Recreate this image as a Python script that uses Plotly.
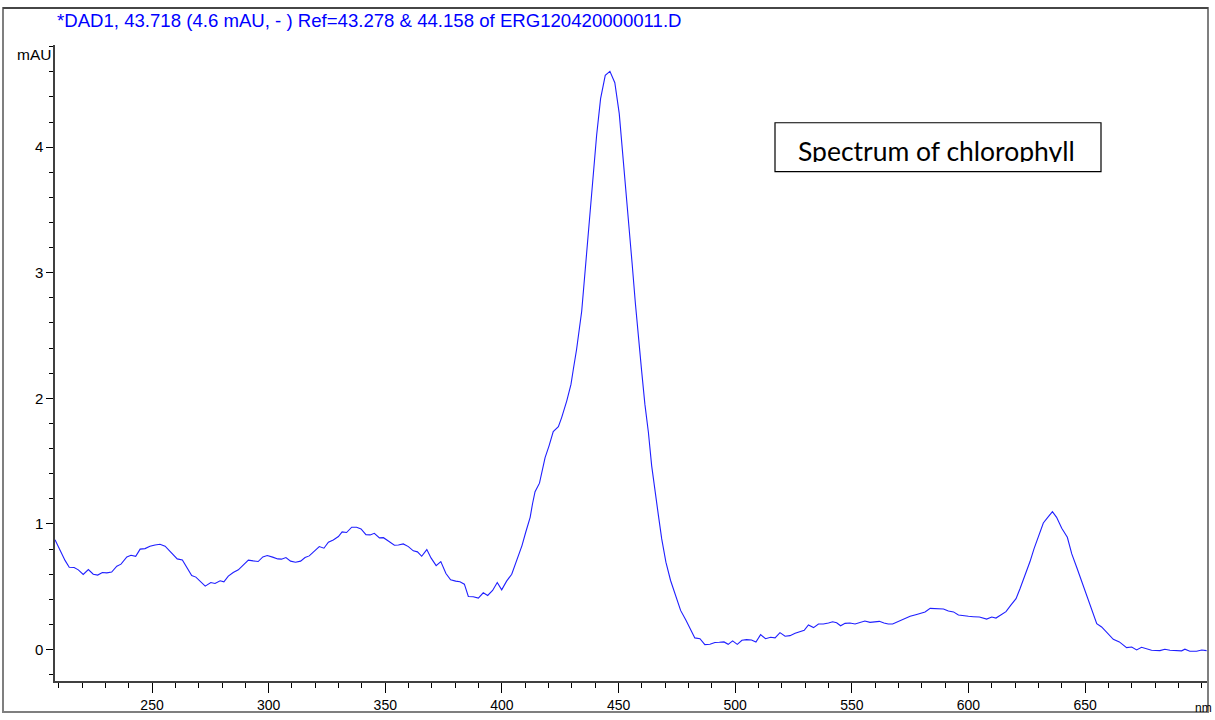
import plotly.graph_objects as go

# Wavelength (nm) and absorbance (mAU)
wavelength_nm = [
    208.4, 210.6, 212.7, 214.5, 216.6, 218.4, 220.5, 222.7, 224.8, 226.7, 228.7, 230.6, 232.7, 234.9,
    236.7, 239.2, 241.0, 243.0, 244.9, 247.0, 249.1, 251.3, 253.4, 255.6, 257.3, 259.1, 260.8, 263.0,
    264.9, 267.0, 268.8, 270.9, 272.8, 275.2, 277.0, 279.2, 280.8, 282.7, 284.8, 287.0, 289.1, 291.3,
    293.4, 295.5, 297.5, 299.4, 301.7, 303.9, 305.5, 307.4, 309.4, 311.5, 313.7, 315.6, 317.4, 319.5,
    321.7, 323.7, 325.6, 327.7, 329.9, 331.5, 333.4, 335.6, 337.7, 339.6, 341.7, 343.5, 345.3, 347.5,
    349.2, 351.3, 353.9, 355.6, 357.7, 359.9, 362.0, 363.8, 365.6, 367.8, 369.6, 371.8, 373.8, 376.0,
    378.0, 380.2, 382.0, 383.9, 385.6, 387.7, 389.9, 392.0, 393.9, 396.0, 398.0, 399.9, 402.0, 404.2,
    406.5, 408.6, 410.2, 412.1, 413.1, 414.2, 416.1, 417.0, 418.5, 420.2, 422.0, 424.2, 425.6, 427.8,
    429.6, 430.6, 432.0, 434.2, 436.0, 437.8, 439.5, 440.6, 442.3, 444.3, 446.3, 448.4, 450.3, 451.7,
    453.0, 454.4, 455.8, 457.2, 458.4, 459.9, 461.3, 462.8, 464.2, 465.6, 467.1, 468.5, 470.3, 472.3,
    474.5, 476.6, 478.9, 480.9, 482.7, 484.9, 487.0, 489.2, 491.3, 493.2, 495.2, 497.0, 498.9, 500.9,
    502.9, 504.9, 507.0, 508.9, 510.9, 513.0, 515.2, 517.1, 519.2, 521.4, 523.5, 525.7, 527.8, 529.6,
    531.4, 533.6, 535.7, 537.8, 540.0, 541.8, 543.5, 545.2, 547.1, 549.2, 551.4, 553.5, 555.6, 557.8,
    559.9, 561.8, 563.8, 565.6, 567.5, 569.9, 572.4, 575.0, 577.8, 581.4, 583.6, 586.4, 589.3, 591.4,
    593.6, 595.7, 597.8, 600.0, 602.1, 604.7, 607.8, 610.0, 611.8, 613.8, 616.1, 618.1, 620.4, 622.1,
    624.3, 626.4, 628.1, 630.3, 632.1, 634.0, 636.0, 637.8, 640.0, 642.4, 644.3, 646.4, 648.6, 650.7,
    652.9, 655.0, 657.1, 659.3, 662.1, 664.7, 667.8, 670.0, 672.1, 674.2, 676.4, 678.5, 682.1, 684.2,
    686.4, 689.2, 691.4, 692.8, 694.9, 697.8, 700.0, 702.1,
]
absorbance_mau = [
    0.875, 0.79, 0.71, 0.656, 0.653, 0.635, 0.598, 0.637, 0.60, 0.593, 0.614, 0.611, 0.617, 0.664,
    0.68, 0.738, 0.751, 0.743, 0.80, 0.804, 0.823, 0.833, 0.839, 0.823, 0.788, 0.754, 0.722, 0.714,
    0.651, 0.59, 0.577, 0.542, 0.505, 0.534, 0.526, 0.548, 0.54, 0.585, 0.614, 0.635, 0.669, 0.712,
    0.706, 0.701, 0.738, 0.749, 0.736, 0.722, 0.72, 0.733, 0.704, 0.696, 0.704, 0.733, 0.746, 0.78,
    0.82, 0.807, 0.855, 0.873, 0.90, 0.937, 0.932, 0.974, 0.974, 0.96, 0.915, 0.913, 0.926, 0.889,
    0.891, 0.865, 0.831, 0.833, 0.841, 0.82, 0.786, 0.778, 0.743, 0.796, 0.73, 0.669, 0.701, 0.606,
    0.556, 0.545, 0.54, 0.521, 0.423, 0.421, 0.41, 0.452, 0.431, 0.471, 0.534, 0.476, 0.545, 0.60,
    0.722, 0.828, 0.934, 1.053, 1.159, 1.257, 1.325, 1.41, 1.529, 1.622, 1.736, 1.775, 1.847, 1.98,
    2.111, 2.23, 2.389, 2.693, 3.077, 3.474, 3.87, 4.095, 4.386, 4.571, 4.603, 4.513, 4.267, 3.976,
    3.698, 3.407, 3.077, 2.759, 2.495, 2.217, 1.952, 1.728, 1.463, 1.251, 1.066, 0.881, 0.696, 0.55,
    0.418, 0.312, 0.233, 0.153, 0.093, 0.087, 0.04, 0.042, 0.056, 0.058, 0.061, 0.042, 0.069, 0.042,
    0.074, 0.079, 0.077, 0.061, 0.119, 0.087, 0.098, 0.093, 0.135, 0.106, 0.111, 0.13, 0.143, 0.153,
    0.196, 0.175, 0.204, 0.204, 0.212, 0.222, 0.214, 0.19, 0.209, 0.212, 0.204, 0.214, 0.228, 0.217,
    0.22, 0.225, 0.212, 0.204, 0.204, 0.225, 0.246, 0.265, 0.28, 0.30, 0.328, 0.325, 0.323, 0.307,
    0.30, 0.275, 0.273, 0.265, 0.262, 0.259, 0.243, 0.259, 0.251, 0.273, 0.302, 0.352, 0.405, 0.484,
    0.59, 0.701, 0.802, 0.907, 1.008, 1.053, 1.098, 1.053, 0.966, 0.894, 0.762, 0.656, 0.537, 0.431,
    0.312, 0.206, 0.18, 0.14, 0.082, 0.061, 0.016, 0.021, -0.003, 0.018, 0.008, -0.005, -0.008, 0.003,
    -0.005, -0.005, -0.01, 0.003, -0.013, -0.013, -0.003, -0.008,
]

x_tick_values = [250, 300, 350, 400, 450, 500, 550, 600, 650]
x_tick_labels = ["250", "300", "350", "400", "450", "500", "550", "600", "650"]
y_tick_values = [0, 1, 2, 3, 4]
y_tick_labels = ["0", "1", "2", "3", "4"]

title_text = "*DAD1, 43.718 (4.6 mAU, - ) Ref=43.278 & 44.158 of ERG120420000011.D"
box_text = "Spectrum of chlorophyll"

W, H = 1215, 720
L, R, T, B = 55, 7, 45, 37
pw = W - L - R
ph = H - T - B


def px(xp):
    return (xp - L) / pw


def py(yp):
    return (H - B - yp) / ph


fig = go.Figure()
fig.add_trace(go.Scatter(
    x=wavelength_nm, y=absorbance_mau, mode="lines",
    line=dict(color="#1f1fff", width=1.1), showlegend=False, hoverinfo="skip",
))

axis_font = dict(family="Liberation Sans, Arial, sans-serif", size=14, color="#000000")

fig.update_layout(
    width=W, height=H,
    margin=dict(l=L, r=R, t=T, b=B, pad=0),
    paper_bgcolor="white", plot_bgcolor="white",
    xaxis=dict(
        range=[208.4, 702.7], showgrid=False, zeroline=False,
        showline=True, linecolor="#404040", linewidth=2,
        tickmode="array", tickvals=x_tick_values, ticktext=x_tick_labels,
        ticks="outside", ticklen=10, tickwidth=1, tickcolor="#000000",
        minor=dict(dtick=10, tick0=0, ticks="outside", ticklen=5, tickwidth=1, tickcolor="#000000", showgrid=False),
        tickfont=axis_font,
    ),
    yaxis=dict(
        range=[-0.25, 4.813], showgrid=False, zeroline=False,
        showline=True, linecolor="#404040", linewidth=1.5,
        tickmode="array", tickvals=y_tick_values, ticktext=y_tick_labels,
        ticks="outside", ticklen=7, tickwidth=1, tickcolor="#000000",
        minor=dict(dtick=0.2, tick0=0, ticks="outside", ticklen=4, tickwidth=1, tickcolor="#000000", showgrid=False),
        tickfont=dict(family="Liberation Sans, Arial, sans-serif", size=15, color="#000000"),
    ),
)

# Outer frame
fig.add_shape(type="rect", xref="paper", yref="paper",
              x0=px(3), x1=px(1208), y0=py(714), y1=py(8),
              line=dict(color="#7f7f7f", width=2), fillcolor="rgba(0,0,0,0)", layer="above")
fig.add_shape(type="line", xref="paper", yref="paper",
              x0=px(3), x1=px(1208), y0=py(8), y1=py(8),
              line=dict(color="#333333", width=1.5), layer="above")

# Label box
fig.add_shape(type="rect", xref="paper", yref="paper",
              x0=px(775), x1=px(1101), y0=py(172), y1=py(123),
              line=dict(color="#000000", width=1.2), fillcolor="white", layer="above")

annotations = [
    dict(text=title_text, x=px(55), y=py(20), xanchor="left", yanchor="middle",
         font=dict(family="Liberation Sans, Arial, sans-serif", size=18.6, color="#0000ff")),
    dict(text="mAU", x=px(53), y=py(55), xanchor="right", yanchor="middle",
         font=dict(family="Liberation Sans, Arial, sans-serif", size=15.5, color="#000000")),
    dict(text="nm", x=px(1214), y=py(710), xanchor="right", yanchor="middle",
         font=dict(family="Liberation Sans, Arial, sans-serif", size=12, color="#000000")),
    dict(text=box_text, x=px(797), y=py(134), xanchor="left", yanchor="top",
         height=27, valign="top", borderpad=0,
         font=dict(family="Lato, Calibri, sans-serif", size=26.5, color="#000000")),
]
for a in annotations:
    a.update(xref="paper", yref="paper", showarrow=False)
fig.update_layout(annotations=annotations)

fig.write_html("out.html", config={"displayModeBar": False},
               post_script="document.body.style.margin='0';")
